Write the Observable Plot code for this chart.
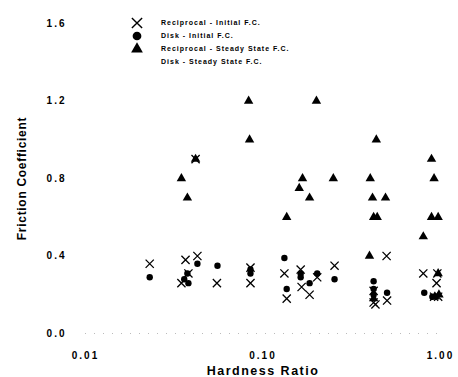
<!DOCTYPE html>
<html><head><meta charset="utf-8">
<script src="https://cdn.jsdelivr.net/npm/d3@7"></script>
<script src="https://cdn.jsdelivr.net/npm/@observablehq/plot@0.6"></script>
<style>
body{margin:0;background:#fff;}
#wrap{position:relative;width:458px;height:377px;}
#legend{position:absolute;left:0;top:0;}
.c text{letter-spacing:2px;}
.c g[aria-label="x-axis label"] text{font-size:12.5px;letter-spacing:1.5px;}
.c g[aria-label="y-axis label"] text{font-size:12px;letter-spacing:0.7px;}
</style></head>
<body><div id="wrap"></div>
<script>
// x tick values / labels
const xTicks = [0.01, 0.1, 1];
const xTickLabels = ["0.01", "0.10", "1.00"];
const yTicks = [0, 0.4, 0.8, 1.2, 1.6];
const yTickLabels = ["0.0", "0.4", "0.8", "1.2", "1.6"];
const legendLabels = ["Reciprocal - Initial F.C.", "Disk - Initial F.C.", "Reciprocal - Steady State F.C.", "Disk - Steady State F.C."];
const legendSymbols = ["times", "circle", "triangle", null];

// Reciprocal - Initial F.C.
const recipInitX = [0.023,0.0366,0.0427,0.038,0.0347,0.055,0.0417,0.085,0.085,0.132,0.136,0.163,0.165,0.183,0.202,0.253,0.42,0.42,0.43,0.497,0.50,0.80,0.96,0.95,0.92,0.97];
const recipInitY = [0.36,0.38,0.40,0.31,0.26,0.26,0.90,0.34,0.26,0.31,0.18,0.33,0.24,0.20,0.29,0.35,0.22,0.16,0.15,0.40,0.17,0.31,0.31,0.26,0.19,0.19];
// Disk - Initial F.C.
const diskInitX = [0.023,0.0427,0.0554,0.0375,0.036,0.038,0.085,0.085,0.132,0.136,0.163,0.163,0.183,0.202,0.253,0.42,0.42,0.42,0.50,0.81,0.90];
const diskInitY = [0.29,0.36,0.35,0.31,0.28,0.26,0.31,0.33,0.39,0.23,0.31,0.29,0.26,0.31,0.28,0.27,0.23,0.20,0.21,0.21,0.19];
// Reciprocal - Steady State F.C.
const recipSSX = [0.083,0.084,0.0417,0.0347,0.0375,0.2,0.435,0.89,0.167,0.249,0.402,0.92,0.16,0.183,0.414,0.49,0.136,0.42,0.44,0.89,0.97,0.80];
const recipSSY = [1.2,1.0,0.9,0.8,0.7,1.2,1.0,0.9,0.8,0.8,0.8,0.8,0.75,0.7,0.7,0.7,0.6,0.6,0.6,0.6,0.6,0.5];
// Disk - Steady State F.C.
const diskSSX = [0.398,0.97,0.42,0.93,0.98];
const diskSSY = [0.40,0.31,0.18,0.19,0.20];

const zip = (xs, ys) => xs.map((x, i) => ({x, y: ys[i]}));

const plot = Plot.plot({
  className: "c",
  width: 458, height: 377,
  marginLeft: 85, marginRight: 18, marginTop: 23, marginBottom: 44,
  x: {type: "log", domain: [0.01, 1]},
  y: {domain: [0, 1.6]},
  style: {fontFamily: "'Liberation Sans', Arial, sans-serif", fontWeight: "bold", background: "white", color: "black", overflow: "visible"},
  marks: [
    Plot.ruleY([0], {stroke: "#bbb", strokeDasharray: "1,8"}),
    Plot.axisX(xTicks, {tickSize: 0, tickPadding: 18, fontSize: 10, tickFormat: d => xTickLabels[xTicks.indexOf(d)],
      label: "Hardness Ratio", labelAnchor: "center", labelArrow: "none", labelOffset: 41}),
    Plot.axisY(yTicks, {tickSize: 0, tickPadding: 19, fontSize: 10, tickFormat: d => yTickLabels[yTicks.indexOf(d)],
      label: "Friction Coefficient", labelAnchor: "center", labelArrow: "none", labelOffset: 68}),
    Plot.dot(zip(recipSSX, recipSSY), {x: "x", y: "y", symbol: "triangle", r: 3.5, fill: "black", stroke: "none"}),
    Plot.dot(zip(diskSSX, diskSSY), {x: "x", y: "y", symbol: "triangle", r: 3.5, fill: "black", stroke: "none"}),
    Plot.dot(zip(diskInitX, diskInitY), {x: "x", y: "y", symbol: "circle", r: 3.2, fill: "black", stroke: "none"}),
    Plot.dot(zip(recipInitX, recipInitY), {x: "x", y: "y", symbol: "times", r: 3.8, stroke: "black", strokeWidth: 1.3})
  ]
});
const wrap = document.getElementById("wrap");
wrap.appendChild(plot);

// legend overlay
const symMap = {times: d3.symbolTimes, circle: d3.symbolCircle, triangle: d3.symbolTriangle};
const lg = d3.select(wrap).append("svg").attr("id", "legend").attr("width", 458).attr("height", 80);
const rowY = [23, 36, 49, 62];
legendLabels.forEach((lab, i) => {
  const s = legendSymbols[i];
  if (s) {
    const p = lg.append("path").attr("transform", `translate(137,${rowY[i]})`)
      .attr("d", d3.symbol(symMap[s], s === "times" ? 70 : 60)());
    if (s === "times") p.attr("fill", "none").attr("stroke", "black").attr("stroke-width", 1.4);
    else p.attr("fill", "black");
  }
  lg.append("text").attr("x", 161).attr("y", rowY[i]).attr("dy", "0.35em")
    .attr("font-family", "'Liberation Sans', Arial, sans-serif").attr("font-weight", "bold")
    .attr("font-size", 7).attr("letter-spacing", "1px").text(lab);
});
</script>
</body></html>
